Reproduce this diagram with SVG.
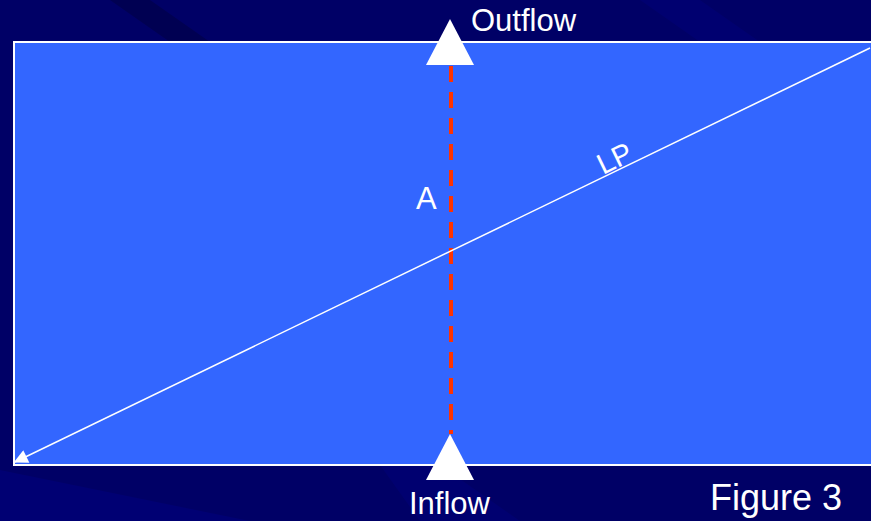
<svg xmlns="http://www.w3.org/2000/svg" width="871" height="521" viewBox="0 0 871 521">
<style>
.lbl{font-family:"Liberation Sans",Arial,sans-serif;fill:#FFFFFF;}
.tri{fill:#FFFFFF;}
</style>
<defs>
<marker id="arr" viewBox="0 0 10 10" refX="9" refY="5" markerWidth="18" markerHeight="14" markerUnits="userSpaceOnUse" orient="auto">
<path d="M0,0 L10,5 L0,10 z" fill="#FFFFFF"/>
</marker>
</defs>
<rect x="0" y="0" width="871" height="521" fill="#000066"/>
<polygon points="110,0 150,0 210,42 170,42" fill="#00004D" opacity="0.8"/>
<polygon points="0,470 0,521 250,521" fill="#000080" opacity="0.5"/>
<polygon points="380,465 420,521 520,521 440,465" fill="#000080" opacity="0.4"/>
<polygon points="640,0 700,0 760,42 700,42" fill="#000080" opacity="0.4"/>
<g id="tank">
<rect x="14" y="42" width="870" height="423" fill="#3366FF" stroke="#FFFFFF" stroke-width="2"/>
</g>
<g id="connectors">
<line x1="451" y1="66" x2="451" y2="434" stroke="#FF3300" stroke-width="4" stroke-dasharray="16,10"/>
<line x1="870" y1="48" x2="15" y2="462" stroke="#FFFFFF" stroke-width="1.5" marker-end="url(#arr)"/>
</g>
<g id="outflow">
<polygon class="tri" points="450,19 474,65 426,65"/>
<text class="lbl" x="471" y="31" font-size="31">Outflow</text>
</g>
<g id="inflow">
<polygon class="tri" points="450,434 474,480 426,480"/>
<text class="lbl" x="409" y="514" font-size="31">Inflow</text>
</g>
<g id="labelA">
<text class="lbl" x="416" y="209" font-size="31">A</text>
</g>
<g id="labelLP">
<text class="lbl" x="603" y="175" font-size="29" transform="rotate(-26 603 175)">LP</text>
</g>
<g id="figure">
<text class="lbl" x="710" y="510" font-size="36">Figure 3</text>
</g>
</svg>
